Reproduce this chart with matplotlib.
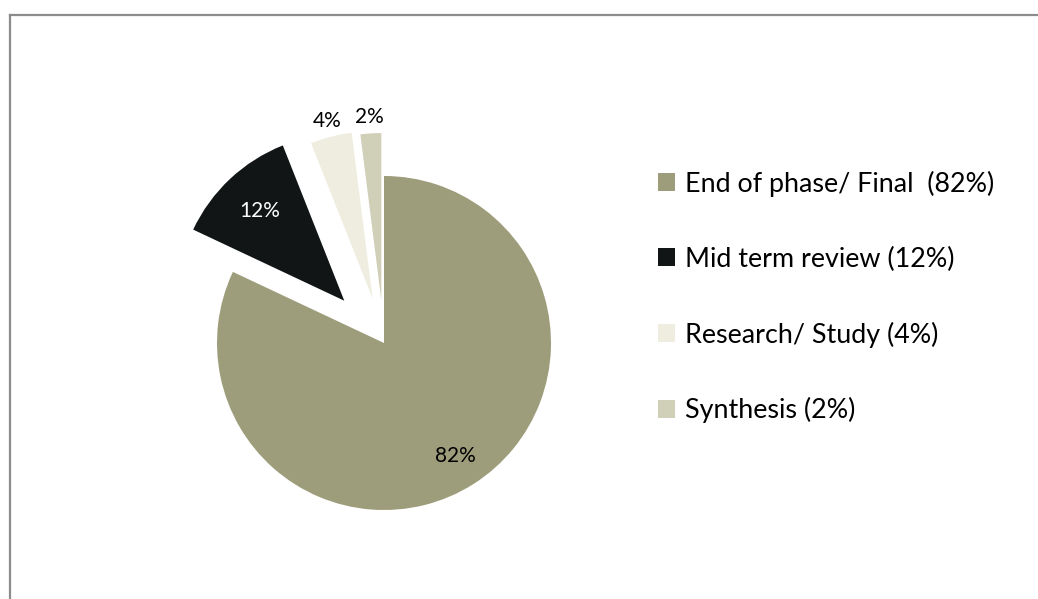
import matplotlib
matplotlib.use("Agg")
import matplotlib.pyplot as plt
import numpy as np
from matplotlib.lines import Line2D

# Evaluation types and their shares (%)
categories = ["End of phase/ Final ", "Mid term review", "Research/ Study", "Synthesis"]
shares = [82, 12, 4, 2]
colors = ["#9e9d7b", "#111516", "#eeeddf", "#d0cfb8"]

plt.rcParams["font.family"] = ["Lato", "DejaVu Sans"]

W, H = 1038, 599
fig = plt.figure(figsize=(W / 100, H / 100), dpi=100)
ax = fig.add_axes([0, 0, 1, 1])

radius = 167
explode = [0, 58, 46, 43]
wedges, _ = ax.pie(shares, explode=explode, colors=colors, startangle=90,
                   counterclock=False, radius=radius, center=(384, 256),
                   wedgeprops=dict(linewidth=0))
ax.set_xlim(0, W)
ax.set_ylim(0, H)
ax.set_aspect("equal")
ax.axis("off")

# Percentage labels: inside the two large slices, outside the two thin ones
label_dist = [0.80, 0.74, 1.10, 1.10]
label_color = ["black", "white", "black", "black"]
for w, v, d, c in zip(wedges, shares, label_dist, label_color):
    mid = np.deg2rad((w.theta1 + w.theta2) / 2)
    cx, cy = w.center
    ax.text(cx + d * w.r * np.cos(mid), cy + d * w.r * np.sin(mid), f"{v}%",
            ha="center", va="center", fontsize=15, color=c)

legend_labels = [f"{c} ({v}%)" for c, v in zip(categories, shares)]
fig.legend(wedges, legend_labels, loc="center left",
           bbox_to_anchor=(658 / W, 1 - 297 / H), frameon=False,
           fontsize=19.4, handlelength=0.64, handleheight=0.64,
           handletextpad=0.36, labelspacing=1.85, borderpad=0,
           borderaxespad=0)

# Chart-area border (runs off the right and bottom edges)
lc = "#8c8c8c"
fig.add_artist(Line2D([9.5 / W, 9.5 / W], [0, 1 - 14.5 / H], color=lc,
                      lw=1.6, transform=fig.transFigure))
fig.add_artist(Line2D([9.5 / W, 1], [1 - 14.5 / H, 1 - 14.5 / H], color=lc,
                      lw=1.6, transform=fig.transFigure))

fig.savefig("out.png", dpi=100, facecolor="white")
